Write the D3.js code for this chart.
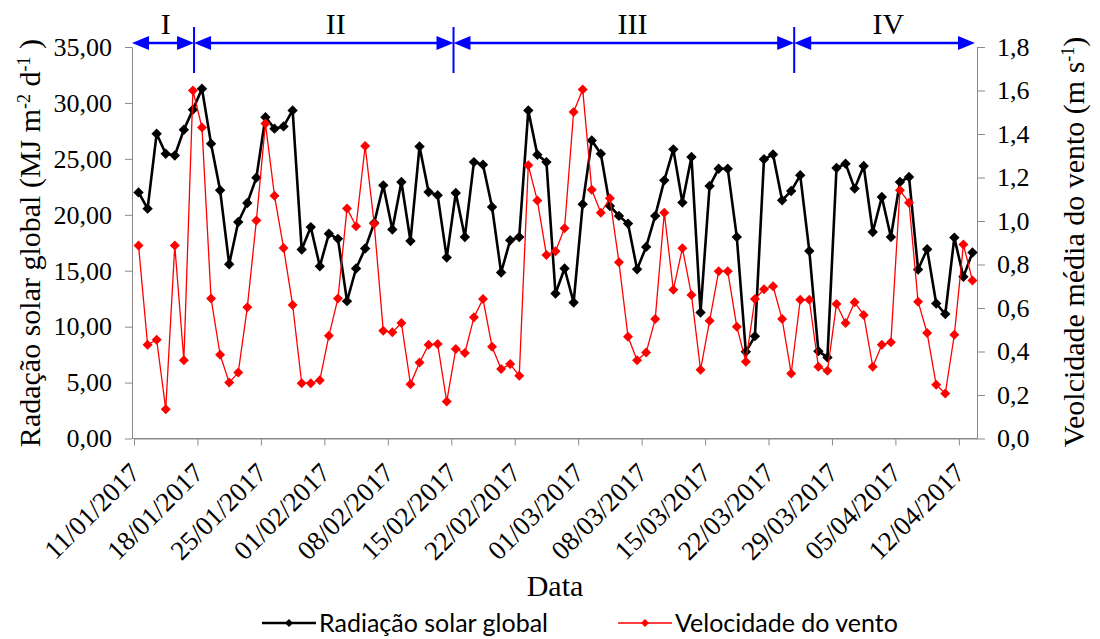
<!DOCTYPE html>
<html>
<head>
<meta charset="utf-8">
<script src="https://cdn.jsdelivr.net/npm/d3@7"></script>
<style>
  body { margin: 0; background: #fff; }
  svg text { fill: #000; }
</style>
</head>
<body>
<svg id="chart" width="1100" height="639"></svg>
<script>
"use strict";

// daily series, 11/01/2017 .. 13/04/2017
const startDay = "2017-01-11";
const radiacao = [22.0, 20.55, 27.25, 25.46, 25.3, 27.6, 29.4, 31.27, 26.36, 22.19,
  15.58, 19.36, 21.05, 23.32, 28.73, 27.7, 27.9, 29.33, 16.89, 18.9,
  15.4, 18.3, 17.85, 12.28, 15.2, 16.98, 19.27, 22.63, 18.68, 22.93,
  17.66, 26.1, 22.04, 21.74, 16.18, 21.95, 18.02, 24.71, 24.48, 20.7,
  14.84, 17.72, 18.02, 29.33, 25.37, 24.71, 12.96, 15.2, 12.16, 20.94,
  26.65, 25.46, 20.79, 19.9, 19.21, 15.13, 17.13, 19.9, 23.08, 25.85,
  21.09, 25.16, 11.27, 22.57, 24.12, 24.12, 18.02, 7.75, 9.15, 24.96,
  25.4, 21.29, 22.13, 23.53, 16.77, 7.81, 7.25, 24.18, 24.57, 22.34,
  24.36, 18.46, 21.59, 18.02, 22.93, 23.38, 15.1, 16.92, 12.07, 11.12,
  17.96, 14.45, 16.63];
const vento = [0.887, 0.431, 0.454, 0.135, 0.887, 0.36, 1.60, 1.43, 0.644, 0.385,
  0.257, 0.303, 0.603, 1.002, 1.448, 1.116, 0.876, 0.614, 0.254, 0.254,
  0.268, 0.472, 0.644, 1.058, 0.976, 1.345, 0.987, 0.495, 0.488, 0.531,
  0.25, 0.349, 0.431, 0.434, 0.17, 0.411, 0.393, 0.557, 0.641, 0.422,
  0.319, 0.342, 0.288, 1.256, 1.094, 0.844, 0.861, 0.967, 1.501, 1.605,
  1.144, 1.038, 1.105, 0.81, 0.468, 0.36, 0.395, 0.549, 1.038, 0.684,
  0.875, 0.66, 0.316, 0.541, 0.769, 0.769, 0.514, 0.353, 0.641, 0.686,
  0.7, 0.549, 0.299, 0.638, 0.638, 0.33, 0.311, 0.618, 0.531, 0.626,
  0.568, 0.33, 0.431, 0.442, 1.141, 1.084, 0.629, 0.485, 0.247, 0.207,
  0.477, 0.892, 0.726];

const xTickLabels = ["11/01/2017", "18/01/2017", "25/01/2017", "01/02/2017", "08/02/2017",
  "15/02/2017", "22/02/2017", "01/03/2017", "08/03/2017", "15/03/2017", "22/03/2017",
  "29/03/2017", "05/04/2017", "12/04/2017"];
const leftTicks = [0, 5, 10, 15, 20, 25, 30, 35];
const rightTicks = [0, 0.2, 0.4, 0.6, 0.8, 1.0, 1.2, 1.4, 1.6, 1.8];

// phases shown on top of the plot
const phaseNames = ["I", "II", "III", "IV"];
const phaseBreaks = ["2017-01-17T15:00", "2017-02-15T06:00", "2017-03-24T20:00"];
const phaseLabelAt = ["2017-01-14T12:00", "2017-02-02T06:00", "2017-03-07T00:00", "2017-04-04T05:00"];

const seriesNames = ["Radiação solar global", "Velocidade do vento"];

const svg = d3.select("#chart");
const serif = "'Liberation Serif', 'Times New Roman', serif";
const axisGray = "#8a8a8a";

const parseDay = d3.timeParse("%Y-%m-%d");
const parseTick = d3.timeParse("%d/%m/%Y");
const parseHour = d3.timeParse("%Y-%m-%dT%H:%M");
const t0 = parseDay(startDay);
const days = radiacao.map((v, i) => d3.timeHour.offset(d3.timeDay.offset(t0, i), 12));

const plotLeft = 132, plotRight = 977, plotTop = 47, plotBottom = 438.5;

const x = d3.scaleTime()
  .domain([t0, d3.timeDay.offset(t0, radiacao.length)])
  .range([134, plotRight]);
const yL = d3.scaleLinear().domain([0, 35]).range([plotBottom, plotTop]);
const yR = d3.scaleLinear().domain([0, 1.8]).range([plotBottom, plotTop]);

const comma = f => v => d3.format(f)(v).replace(".", ",");

// left axis
const gL = svg.append("g").attr("transform", `translate(${plotLeft},0)`)
  .call(d3.axisLeft(yL).tickValues(leftTicks).tickFormat(comma(".2f"))
    .tickSize(7).tickSizeOuter(0).tickPadding(13));
// right axis
const gR = svg.append("g").attr("transform", `translate(${plotRight},0)`)
  .call(d3.axisRight(yR).tickValues(rightTicks).tickFormat(comma(".1f"))
    .tickSize(8).tickSizeOuter(0).tickPadding(12));
// bottom axis
const gB = svg.append("g").attr("transform", `translate(0,${plotBottom})`)
  .call(d3.axisBottom(x).tickValues(xTickLabels.map(parseTick))
    .tickFormat(d3.timeFormat("%d/%m/%Y")).tickSize(7).tickSizeOuter(0));
svg.append("line").attr("x1", plotLeft).attr("x2", plotRight)
  .attr("y1", plotBottom).attr("y2", plotBottom).attr("stroke", axisGray);

[gL, gR, gB].forEach(g => {
  g.attr("font-family", serif);
  g.selectAll("path, line").attr("stroke", axisGray).attr("stroke-width", 1);
  g.selectAll("text").style("font-family", serif).style("font-size", "26px").attr("fill", "#000");
});
gB.selectAll("text")
  .attr("y", null).attr("dy", null)
  .style("font-size", "27px")
  .style("text-anchor", "end")
  .attr("transform", "translate(7,36) rotate(-45)");

// axis titles
const titleL = svg.append("text")
  .attr("transform", "translate(40,243) rotate(-90)")
  .attr("text-anchor", "middle")
  .style("font-family", serif).style("font-size", "30px");
titleL.append("tspan").text("Radação solar global (MJ m");
titleL.append("tspan").attr("baseline-shift", "super").style("font-size", "18px").text("-2");
titleL.append("tspan").text(" d");
titleL.append("tspan").attr("baseline-shift", "super").style("font-size", "18px").text("-1");
titleL.append("tspan").text(" )");

const titleR = svg.append("text")
  .attr("transform", "translate(1084,242) rotate(-90)")
  .attr("text-anchor", "middle")
  .style("font-family", serif).style("font-size", "30px");
titleR.append("tspan").text("Veolcidade média do vento (m s");
titleR.append("tspan").attr("baseline-shift", "super").style("font-size", "18px").text("-1");
titleR.append("tspan").text(")");

svg.append("text")
  .attr("x", 555).attr("y", 596)
  .attr("text-anchor", "middle")
  .style("font-family", serif).style("font-size", "30px")
  .text("Data");

// series
const diamond = r => `M0,${-r}L${r},0L0,${r}L${-r},0Z`;

const lineL = d3.line().x((d, i) => x(days[i])).y(d => yL(d));
const lineR = d3.line().x((d, i) => x(days[i])).y(d => yR(d));

svg.append("path").datum(radiacao)
  .attr("d", lineL).attr("fill", "none")
  .attr("stroke", "#000").attr("stroke-width", 2.6).attr("stroke-linejoin", "round");
svg.append("g").selectAll("path").data(radiacao).join("path")
  .attr("transform", (d, i) => `translate(${x(days[i])},${yL(d)})`)
  .attr("d", diamond(5.2)).attr("fill", "#000");

svg.append("path").datum(vento)
  .attr("d", lineR).attr("fill", "none")
  .attr("stroke", "#ff0000").attr("stroke-width", 1.3).attr("stroke-linejoin", "round");
svg.append("g").selectAll("path").data(vento).join("path")
  .attr("transform", (d, i) => `translate(${x(days[i])},${yR(d)})`)
  .attr("d", diamond(5)).attr("fill", "#ff0000");

// phase arrows
const blue = "#0000ff";
const arrowY = 43;
const edges = [x.range()[0] - 2, ...phaseBreaks.map(s => x(parseHour(s))), plotRight - 2];
const head = (tipX, dir) => {
  const len = 17, hw = 7;
  return `M${tipX},${arrowY}L${tipX - dir * len},${arrowY - hw}L${tipX - dir * len},${arrowY + hw}Z`;
};
const gP = svg.append("g");
phaseNames.forEach((name, k) => {
  const a = edges[k], b = edges[k + 1];
  gP.append("line").attr("x1", a + 10).attr("x2", b - 10)
    .attr("y1", arrowY).attr("y2", arrowY)
    .attr("stroke", blue).attr("stroke-width", 2.6);
  gP.append("path").attr("d", head(a, -1)).attr("fill", blue);
  gP.append("path").attr("d", head(b, 1)).attr("fill", blue);
  gP.append("text")
    .attr("x", x(parseHour(phaseLabelAt[k]))).attr("y", 34)
    .attr("text-anchor", "middle")
    .style("font-family", serif).style("font-size", "30px")
    .text(name);
});
phaseBreaks.forEach(s => {
  gP.append("line").attr("x1", x(parseHour(s))).attr("x2", x(parseHour(s)))
    .attr("y1", 27).attr("y2", 73).attr("stroke", blue).attr("stroke-width", 2);
});

// legend
const sans = "Lato, 'Open Sans', 'Liberation Sans', sans-serif";
const legendX = [262, 618];
const legendColor = ["#000", "#ff0000"];
const legendWidth = [2.6, 1.3];
const legendY = 623;
seriesNames.forEach((name, k) => {
  const g = svg.append("g").attr("transform", `translate(${legendX[k]},${legendY})`);
  g.append("line").attr("x1", 0).attr("x2", 54).attr("y1", 0).attr("y2", 0)
    .attr("stroke", legendColor[k]).attr("stroke-width", legendWidth[k]);
  g.append("path").attr("transform", "translate(27,0)").attr("d", diamond(4)).attr("fill", legendColor[k]);
  g.append("text").attr("x", 57).attr("dy", "0.35em")
    .style("font-family", sans).style("font-size", "25px")
    .text(name);
});
</script>
</body>
</html>
